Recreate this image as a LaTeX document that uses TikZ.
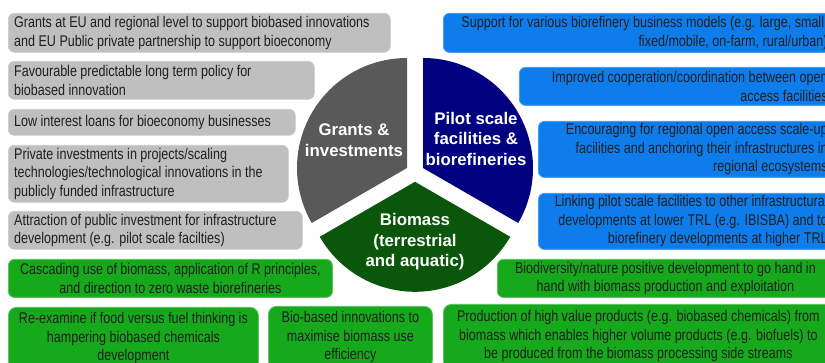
\documentclass[tikz,border=0pt]{standalone}
\usepackage{fontspec}
\setmainfont{Liberation Sans}[FakeStretch=0.81]
\newfontfamily\piefont{Liberation Sans}
\definecolor{boxgrey}{HTML}{BFBFBF}
\definecolor{piegrey}{HTML}{595959}
\definecolor{boxblue}{HTML}{0E7DEB}
\definecolor{pienavy}{HTML}{000080}
\definecolor{piegreen}{HTML}{0A560A}
\definecolor{boxgreen}{HTML}{17A91C}
\begin{document}
\begin{tikzpicture}[x=1pt,y=1pt,
  box/.style={rounded corners=6pt, inner sep=0pt, anchor=north west},
  greybox/.style={box, fill=boxgrey, draw=boxgrey!80!white, line width=0.6pt},
  bluebox/.style={box, fill=boxblue, draw=boxblue!75!white, line width=0.8pt},
  greenbox/.style={box, fill=boxgreen, draw=boxgreen!70!white, line width=0.8pt},
  txt/.style={inner sep=0pt, font=\fontsize{15.5}{18.5}\selectfont, text=black!88},
  ltxt/.style={txt, anchor=west, align=left},
  rtxt/.style={txt, anchor=east, align=right},
  ctxt/.style={txt, anchor=center, align=center},
  pielabel/.style={font=\piefont\bfseries\fontsize{16.8}{20.5}\selectfont,
    text=white, align=center, inner sep=0pt}]
\useasboundingbox (0,0) rectangle (825,363);
\clip (0,0) rectangle (825,363);

% three exploded sectors of the central pie
\fill[piegrey]  (407,195) -- ++(90:110) arc[start angle=90, end angle=210, radius=110] -- cycle;
\fill[pienavy]  (423,195) -- ++(-30:110) arc[start angle=-30, end angle=90, radius=110] -- cycle;
\fill[piegreen] (415,181.2) -- ++(210:110) arc[start angle=210, end angle=330, radius=110] -- cycle;

\node[pielabel] (grants) at (354,223) {Grants \&\\investments};
\node[pielabel] (pilot) at (476,224) {Pilot scale\\facilities \&\\biorefineries};
\node[pielabel] (biomass) at (415,121) {Biomass\\(terrestrial\\and aquatic)};

% grants and investments
\node[greybox, minimum width=382pt, minimum height=39pt] (g1) at (8,350) {};
\node[ltxt] (g1t) at ([xshift=6pt]g1.west)
  {Grants at EU and regional level to support biobased innovations\\and EU Public private partnership to support bioeconomy};
\node[greybox, minimum width=306pt, minimum height=38pt] (g2) at (8,302) {};
\node[ltxt] (g2t) at ([xshift=6pt]g2.west)
  {Favourable predictable long term policy for\\biobased innovation};
\node[greybox, minimum width=287pt, minimum height=26pt] (g3) at (8,254) {};
\node[ltxt] (g3t) at ([xshift=6pt]g3.west)
  {Low interest loans for bioeconomy businesses};
\node[greybox, minimum width=280pt, minimum height=57pt] (g4) at (8,218) {};
\node[ltxt] (g4t) at ([xshift=6pt]g4.west)
  {Private investments in projects/scaling\\technologies/technological innovations in the\\publicly funded infrastructure};
\node[greybox, minimum width=294pt, minimum height=38pt] (g5) at (8,152) {};
\node[ltxt] (g5t) at ([xshift=6pt]g5.west)
  {Attraction of public investment for infrastructure\\development (e.g. pilot scale facilties)};

% biomass
\node[greenbox, minimum width=324pt, minimum height=38pt] (m1) at (8,104) {};
\node[ctxt] (m1t) at (m1.center)
  {Cascading use of biomass, application of R principles,\\and direction to zero waste biorefineries};
\node[greenbox, rounded corners=8pt, minimum width=250pt, minimum height=62pt] (m2) at (8,56) {};
\node[ctxt] (m2t) at (m2.center)
  {Re-examine if food versus fuel thinking is\\hampering biobased chemicals\\development};
\node[greenbox, rounded corners=8pt, minimum width=164pt, minimum height=62pt] (m3) at (268,57) {};
\node[ctxt] (m3t) at (m3.center)
  {Bio-based innovations to\\maximise biomass use\\efficiency};
\node[greenbox, minimum width=336pt, minimum height=38pt] (m4) at (497,104) {};
\node[ctxt] (m4t) at (m4.center)
  {Biodiversity/nature positive development to go hand in\\hand with biomass production and exploitation};
\node[greenbox, rounded corners=8pt, minimum width=390pt, minimum height=64pt] (m5) at (443,59) {};
\node[ctxt] (m5t) at (m5.center)
  {Production of high value products (e.g. biobased chemicals) from\\biomass which enables higher volume products (e.g. biofuels) to\\be produced from the biomass processing side streams};

% pilot scale facilities and biorefineries
\node[bluebox, minimum width=390pt, minimum height=39pt] (p1) at (443,350) {};
\node[rtxt] (p1t) at ([xshift=-6pt]p1.east)
  {Support for various biorefinery business models (e.g. large, small,\\fixed/mobile, on-farm, rural/urban)};
\node[bluebox, minimum width=314pt, minimum height=38pt] (p2) at (519,296) {};
\node[rtxt] (p2t) at ([xshift=-6pt]p2.east)
  {Improved cooperation/coordination between open\\access facilities};
\node[bluebox, minimum width=295pt, minimum height=56pt] (p3) at (538,242) {};
\node[rtxt] (p3t) at ([xshift=-6pt]p3.east)
  {Encouraging for regional open access scale-up\\facilities and anchoring their infrastructures in\\regional ecosystems};
\node[bluebox, minimum width=295pt, minimum height=56pt] (p4) at (538,170) {};
\node[rtxt] (p4t) at ([xshift=-6pt]p4.east)
  {Linking pilot scale facilities to other infrastructural\\developments at lower TRL (e.g. IBISBA) and to\\biorefinery developments at higher TRL};
\end{tikzpicture}
\end{document}
